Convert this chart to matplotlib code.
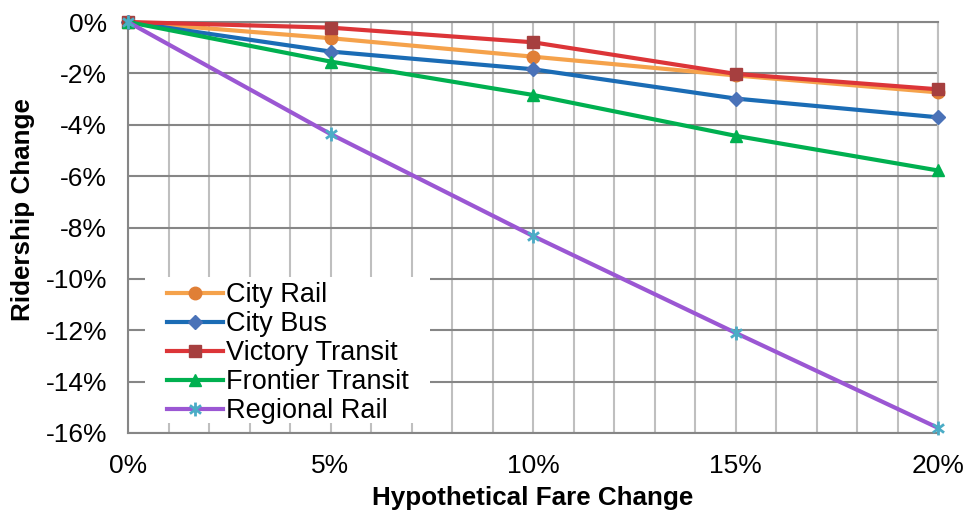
import matplotlib
matplotlib.use("Agg")
import matplotlib.pyplot as plt
from matplotlib.path import Path
from matplotlib.patches import Rectangle
from matplotlib.ticker import MultipleLocator, FuncFormatter

plt.rcParams['font.family'] = ['Liberation Sans', 'DejaVu Sans']

fare_change = [0, 5, 10, 15, 20]
city_rail = [0, -0.63, -1.35, -2.08, -2.74]
city_bus = [0, -1.15, -1.84, -2.98, -3.71]
victory_transit = [0, -0.22, -0.79, -2.02, -2.62]
frontier_transit = [0, -1.54, -2.84, -4.43, -5.78]
regional_rail = [0, -4.36, -8.33, -12.1, -15.8]

series_names = ["City Rail", "City Bus", "Victory Transit", "Frontier Transit", "Regional Rail"]
x_ticks = [0, 5, 10, 15, 20]
y_ticks = [0, -2, -4, -6, -8, -10, -12, -14, -16]

asterisk = Path(
    [(0, -1), (0, 1), (-0.8, -0.6), (0.8, 0.6), (-0.8, 0.6), (0.8, -0.6)],
    [Path.MOVETO, Path.LINETO, Path.MOVETO, Path.LINETO, Path.MOVETO, Path.LINETO],
)

styles = [
    dict(color="#F5A24B", marker="o", mfc="#E07F36", mec="#E07F36", ms=9),
    dict(color="#1B6CB5", marker="D", mfc="#4A72B8", mec="#4A72B8", ms=7),
    dict(color="#DC3538", marker="s", mfc="#A63F3F", mec="#A63F3F", ms=9),
    dict(color="#00B050", marker="^", mfc="#00B050", mec="#00B050", ms=9),
    dict(color="#9B57D3", marker=asterisk, mfc="none", mec="#4BACC6", ms=10, mew=2),
]

fig = plt.figure(figsize=(9.65, 5.13), dpi=100)
ax = fig.add_axes([128 / 965, 1 - 433 / 513, 810 / 965, 411 / 513])

data = [city_rail, city_bus, victory_transit, frontier_transit, regional_rail]
for name, vals, st in zip(series_names, data, styles):
    ax.plot(fare_change, vals, label=name, lw=3, zorder=3, clip_on=False, **st)

ax.set_xlim(0, 20)
ax.set_ylim(-16, 0)
ax.set_xticks(x_ticks)
ax.xaxis.set_minor_locator(MultipleLocator(1))
ax.set_yticks(y_ticks)
ax.xaxis.set_major_formatter(FuncFormatter(lambda v, p: f"{int(v)}%"))
ax.yaxis.set_major_formatter(FuncFormatter(lambda v, p: f"{int(v)}%"))

ax.grid(axis="x", which="both", color="#BFBFBF", lw=1.5, zorder=0)
ax.grid(axis="y", which="major", color="#868686", lw=1.5, zorder=0)
ax.set_axisbelow(True)
ax.tick_params(axis="both", which="both", length=0, labelsize=19)
ax.tick_params(axis="x", pad=15)
ax.tick_params(axis="y", pad=15)

for side in ["left", "bottom", "top"]:
    ax.spines[side].set_color("#868686")
    ax.spines[side].set_linewidth(1.5)
ax.spines["right"].set_color("#BFBFBF")
ax.spines["right"].set_linewidth(1.5)

fig.text(533 / 965, 1 - 498 / 513, "Hypothetical Fare Change", ha="center", va="center",
         fontsize=18.7, fontweight="bold")
fig.text(23 / 965, 1 - 210 / 513, "Ridership Change", ha="center", va="center",
         rotation=90, fontsize=18.7, fontweight="bold")

# white legend background box
ax.add_patch(Rectangle((17 / 810, 10 / 411), 285 / 810, 146 / 411, transform=ax.transAxes,
                       facecolor="white", edgecolor="none", zorder=2))

leg = ax.legend(loc="lower left", bbox_to_anchor=(39 / 810, 9 / 411), fontsize=19.5,
                frameon=False, borderpad=0, borderaxespad=0, labelspacing=0.11,
                handlelength=2.05, handletextpad=0.12)
leg.set_zorder(5)

fig.savefig("out.png", dpi=100)
